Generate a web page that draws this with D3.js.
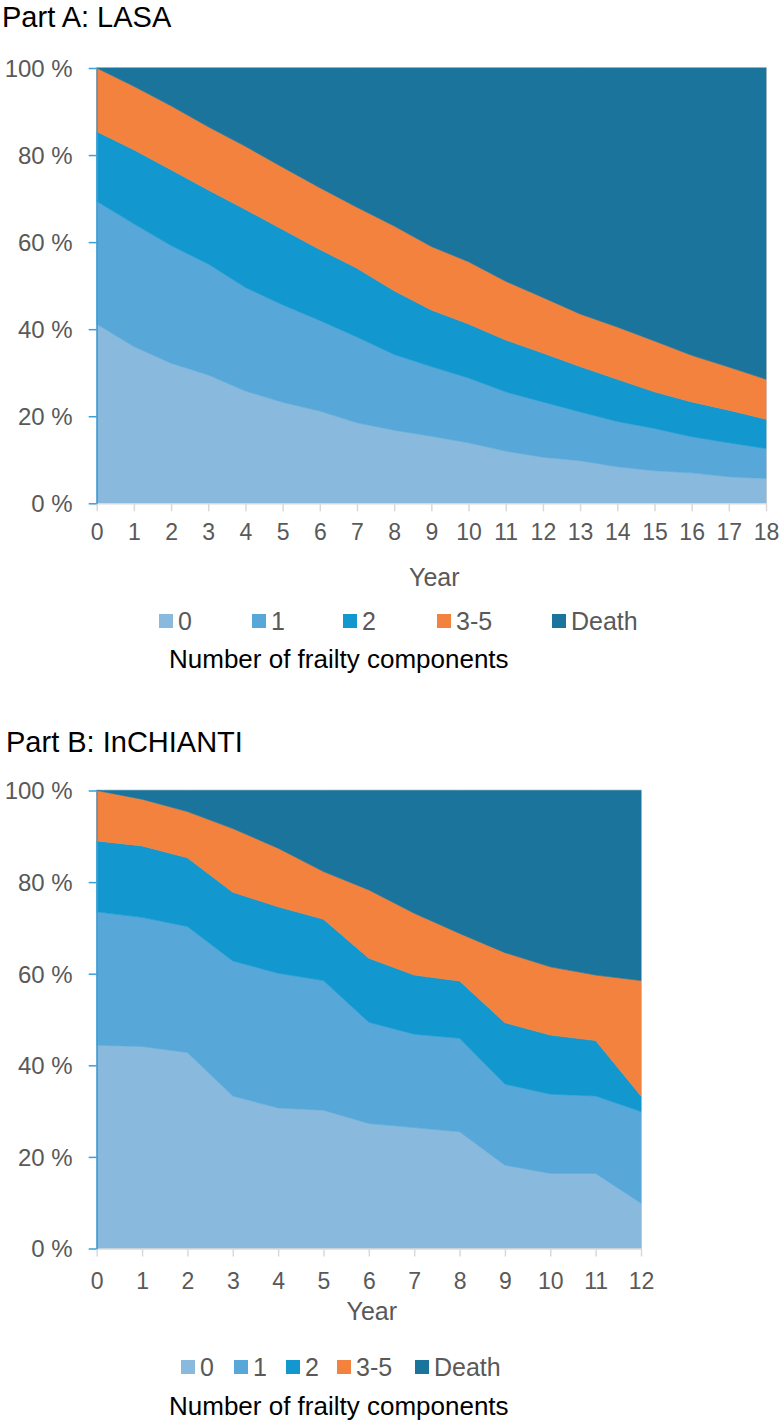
<!DOCTYPE html>
<html>
<head>
<meta charset="utf-8">
<script src="https://cdn.jsdelivr.net/npm/d3@7"></script>
<style>
  html, body { margin: 0; padding: 0; background: #fff; }
  svg { display: block; font-family: "Liberation Sans", Arial, sans-serif; }
</style>
</head>
<body>
<svg id="chart" width="780" height="1424"></svg>
<script>
// ---------- DATA ----------
const categories = ["0", "1", "2", "3-5", "Death"];

// Part A: LASA (percent of sample per year)
const yearsA = [0,1,2,3,4,5,6,7,8,9,10,11,12,13,14,15,16,17,18];
const lasa0     = [41.2, 36.0, 32.2, 29.5, 25.8, 23.2, 21.2, 18.5, 16.8, 15.4, 13.9, 12.0, 10.6, 9.8, 8.4, 7.5, 7.0, 6.1, 5.7];
const lasa1     = [28.2, 28.2, 27.0, 25.5, 23.8, 22.4, 20.8, 19.7, 17.4, 16.0, 14.9, 13.6, 12.7, 11.2, 10.4, 9.7, 8.3, 7.8, 6.9];
const lasa2     = [16.0, 17.0, 17.4, 17.0, 17.9, 17.3, 16.3, 15.8, 14.6, 13.0, 12.4, 11.9, 11.2, 10.4, 9.7, 8.4, 8.0, 7.5, 6.7];
const lasa35    = [14.6, 14.6, 14.7, 14.5, 14.5, 14.3, 14.2, 14.0, 14.9, 14.6, 14.3, 13.5, 12.8, 12.1, 12.0, 11.7, 10.7, 9.9, 9.2];
const lasaDeath = [0.0, 4.2, 8.7, 13.5, 18.0, 22.8, 27.5, 32.0, 36.3, 41.0, 44.5, 49.0, 52.7, 56.5, 59.5, 62.7, 66.0, 68.7, 71.5];

// Part B: InCHIANTI
const yearsB = [0,1,2,3,4,5,6,7,8,9,10,11,12];
const chi0     = [44.4, 44.1, 42.8, 33.3, 30.7, 30.2, 27.3, 26.4, 25.5, 18.2, 16.4, 16.4, 9.9];
const chi1     = [29.1, 28.2, 27.5, 29.5, 29.4, 28.3, 22.1, 20.4, 20.4, 17.7, 17.3, 16.9, 20.0];
const chi2     = [15.5, 15.6, 15.0, 15.0, 14.5, 13.4, 14.0, 12.9, 12.5, 13.4, 12.9, 12.1, 3.4];
const chi35    = [11.0, 10.2, 10.1, 13.9, 12.8, 10.4, 14.9, 13.5, 10.4, 15.3, 14.9, 14.3, 25.2];
const chiDeath = [0.0, 1.9, 4.6, 8.3, 12.6, 17.7, 21.7, 26.8, 31.2, 35.4, 38.5, 40.3, 41.5];

const yTicks = [0, 20, 40, 60, 80, 100];

// ---------- STYLE ----------
const colors = ["#89B9DC", "#57A8D8", "#1298CE", "#F3823F", "#1B749B"];
const axisBlue = "#3A9FDB";
const tickGray = "#D9D9D9";
const labelGray = "#595959";

const svg = d3.select("#chart");

function drawPanel(opt) {
  const rows = opt.years.map((yr, i) => {
    const r = { year: yr };
    categories.forEach((c, k) => { r[c] = opt.series[k][i]; });
    return r;
  });
  const stack = d3.stack().keys(categories)(rows);

  const x = d3.scaleLinear().domain(d3.extent(opt.years)).range([opt.left, opt.right]);
  const y = d3.scaleLinear().domain([0, 100]).range([opt.bottom, opt.top]);

  const g = svg.append("g");

  // title
  g.append("text")
    .attr("x", opt.titleX).attr("y", opt.titleY)
    .attr("font-size", 29).attr("fill", "#000")
    .text(opt.title);

  // plot frame
  g.append("rect")
    .attr("x", opt.left).attr("y", opt.top - 0.5)
    .attr("width", opt.right - opt.left + 0.5).attr("height", opt.bottom - opt.top + 0.5)
    .attr("fill", "none").attr("stroke", "#D0D0D0").attr("stroke-width", 1);

  const area = d3.area()
    .x(d => x(d.data.year))
    .y0(d => y(d[0]))
    .y1(d => y(d[1]));

  g.selectAll("path.layer").data(stack).join("path")
    .attr("class", "layer")
    .attr("fill", (d, i) => colors[i])
    .attr("stroke", (d, i) => colors[i])
    .attr("stroke-width", 0.6)
    .attr("d", area);

  // x axis
  const xAxis = d3.axisBottom(x).tickValues(opt.years).tickSize(8).tickSizeOuter(0).tickFormat(d3.format("d"));
  const xa = g.append("g").attr("transform", `translate(0,${opt.bottom})`).call(xAxis);
  xa.select(".domain").attr("stroke", tickGray).attr("stroke-width", 1.5);
  xa.selectAll(".tick line").attr("stroke", tickGray).attr("stroke-width", 1.5);
  xa.selectAll(".tick text")
    .attr("font-size", 23).attr("fill", labelGray)
    .attr("font-family", "Liberation Sans, Arial, sans-serif")
    .attr("dy", null).attr("y", opt.xLabelDy);

  // y axis
  const yAxis = d3.axisLeft(y).tickValues(yTicks).tickSize(8).tickSizeOuter(0).tickFormat(d => d + "\u00A0%");
  const ya = g.append("g").attr("transform", `translate(${opt.left},0)`).call(yAxis);
  ya.select(".domain").attr("stroke", axisBlue).attr("stroke-width", 1.5);
  ya.selectAll(".tick line").attr("stroke", axisBlue).attr("stroke-width", 1.5);
  ya.selectAll(".tick text")
    .attr("font-size", 24).attr("fill", labelGray)
    .attr("font-family", "Liberation Sans, Arial, sans-serif")
    .attr("x", -24).attr("dy", "0.35em");

  // axis title
  g.append("text")
    .attr("x", (opt.left + opt.right) / 2 + 3).attr("y", opt.yearY)
    .attr("text-anchor", "middle").attr("font-size", 25).attr("fill", labelGray)
    .text("Year");

  // legend
  const lg = g.append("g");
  categories.forEach((c, i) => {
    lg.append("rect")
      .attr("x", opt.legendX[i]).attr("y", opt.legendY - 7)
      .attr("width", 14).attr("height", 14)
      .attr("fill", colors[i]);
    lg.append("text")
      .attr("x", opt.legendX[i] + 19).attr("y", opt.legendY + 9)
      .attr("font-size", 25).attr("fill", labelGray)
      .text(c);
  });

  g.append("text")
    .attr("x", 169).attr("y", opt.numberY)
    .attr("font-size", 26).attr("fill", "#000")
    .text("Number of frailty components");
}

drawPanel({
  title: "Part A: LASA", titleX: 2, titleY: 27,
  years: yearsA,
  series: [lasa0, lasa1, lasa2, lasa35, lasaDeath],
  left: 96.7, right: 766, top: 68, bottom: 503.3,
  xLabelDy: 37,
  yearY: 586,
  legendX: [159, 252, 343, 437, 552], legendY: 621,
  numberY: 668
});

drawPanel({
  title: "Part B: InCHIANTI", titleX: 6, titleY: 752,
  years: yearsB,
  series: [chi0, chi1, chi2, chi35, chiDeath],
  left: 96.7, right: 641, top: 790.5, bottom: 1248.5,
  xLabelDy: 40,
  yearY: 1320,
  legendX: [181, 234, 286, 337, 415], legendY: 1367,
  numberY: 1415
});
</script>
</body>
</html>
